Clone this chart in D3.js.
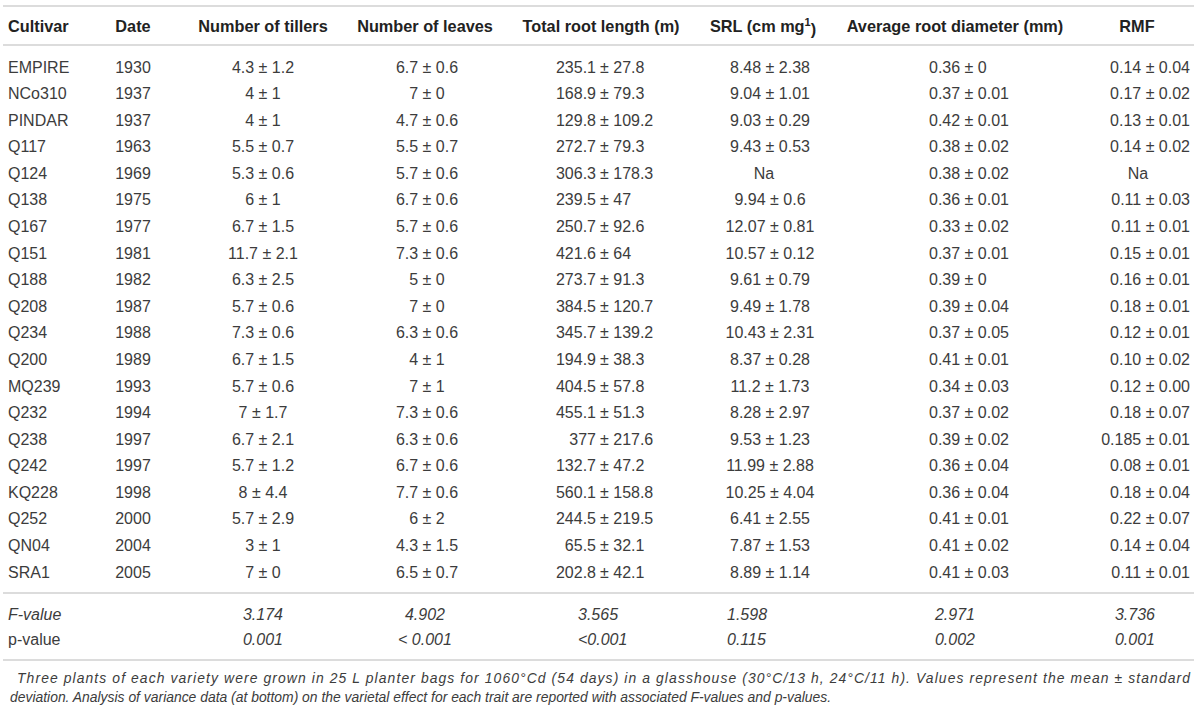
<!DOCTYPE html>
<html>
<head>
<meta charset="utf-8">
<script src="https://cdn.jsdelivr.net/npm/d3@7/dist/d3.min.js"></script>
<style>
  html, body { margin: 0; padding: 0; background: #fff; }
  svg { display: block; }
  text { font-family: "Liberation Sans", Arial, Helvetica, sans-serif; fill: #3c3c3c; }
</style>
</head>
<body>
<svg id="chart" width="1200" height="712"></svg>
<script>
// ---------------- DATA ----------------
const headers = ["Cultivar", "Date", "Number of tillers", "Number of leaves",
  "Total root length (m)", "SRL (cm mg", "Average root diameter (mm)", "RMF"];

const cultivars = ["EMPIRE","NCo310","PINDAR","Q117","Q124","Q138","Q167","Q151","Q188","Q208",
  "Q234","Q200","MQ239","Q232","Q238","Q242","KQ228","Q252","QN04","SRA1"];
const dates = ["1930","1937","1937","1963","1969","1975","1977","1981","1982","1987",
  "1988","1989","1993","1994","1997","1997","1998","2000","2004","2005"];

const tillers = [["4.3","1.2"],["4","1"],["4","1"],["5.5","0.7"],["5.3","0.6"],["6","1"],["6.7","1.5"],
  ["11.7","2.1"],["6.3","2.5"],["5.7","0.6"],["7.3","0.6"],["6.7","1.5"],["5.7","0.6"],["7","1.7"],
  ["6.7","2.1"],["5.7","1.2"],["8","4.4"],["5.7","2.9"],["3","1"],["7","0"]];
const leaves = [["6.7","0.6"],["7","0"],["4.7","0.6"],["5.5","0.7"],["5.7","0.6"],["6.7","0.6"],["5.7","0.6"],
  ["7.3","0.6"],["5","0"],["7","0"],["6.3","0.6"],["4","1"],["7","1"],["7.3","0.6"],
  ["6.3","0.6"],["6.7","0.6"],["7.7","0.6"],["6","2"],["4.3","1.5"],["6.5","0.7"]];
const rootLength = [["235.1","27.8"],["168.9","79.3"],["129.8","109.2"],["272.7","79.3"],["306.3","178.3"],
  ["239.5","47"],["250.7","92.6"],["421.6","64"],["273.7","91.3"],["384.5","120.7"],["345.7","139.2"],
  ["194.9","38.3"],["404.5","57.8"],["455.1","51.3"],["377","217.6"],["132.7","47.2"],["560.1","158.8"],
  ["244.5","219.5"],["65.5","32.1"],["202.8","42.1"]];
const srl = [["8.48","2.38"],["9.04","1.01"],["9.03","0.29"],["9.43","0.53"],null,["9.94","0.6"],
  ["12.07","0.81"],["10.57","0.12"],["9.61","0.79"],["9.49","1.78"],["10.43","2.31"],["8.37","0.28"],
  ["11.2","1.73"],["8.28","2.97"],["9.53","1.23"],["11.99","2.88"],["10.25","4.04"],["6.41","2.55"],
  ["7.87","1.53"],["8.89","1.14"]];
const diameter = [["0.36","0"],["0.37","0.01"],["0.42","0.01"],["0.38","0.02"],["0.38","0.02"],["0.36","0.01"],
  ["0.33","0.02"],["0.37","0.01"],["0.39","0"],["0.39","0.04"],["0.37","0.05"],["0.41","0.01"],
  ["0.34","0.03"],["0.37","0.02"],["0.39","0.02"],["0.36","0.04"],["0.36","0.04"],["0.41","0.01"],
  ["0.41","0.02"],["0.41","0.03"]];
const rmf = [["0.14","0.04"],["0.17","0.02"],["0.13","0.01"],["0.14","0.02"],null,["0.11","0.03"],
  ["0.11","0.01"],["0.15","0.01"],["0.16","0.01"],["0.18","0.01"],["0.12","0.01"],["0.10","0.02"],
  ["0.12","0.00"],["0.18","0.07"],["0.185","0.01"],["0.08","0.01"],["0.18","0.04"],["0.22","0.07"],
  ["0.14","0.04"],["0.11","0.01"]];

const statLabels = ["F-value", "p-value"];
const fValues = ["3.174","4.902","3.565","1.598","2.971","3.736"];
const pValues = ["0.001","< 0.001","<0.001","0.115","0.002","0.001"];

const footnote = [
  "Three plants of each variety were grown in 25 L planter bags for 1060°Cd (54 days) in a glasshouse (30°C/13 h, 24°C/11 h). Values represent the mean ± standard",
  "deviation. Analysis of variance data (at bottom) on the varietal effect for each trait are reported with associated F-values and p-values."
];

// ---------------- LAYOUT ----------------
const svg = d3.select("#chart");
const ruleColor = "#dcdcdc";
const fs = 16;

const y = d3.scaleLinear().domain([0, cultivars.length - 1]).range([67, 572]);
const headerY = 26;
const statY = d3.scaleLinear().domain([0, 1]).range([614, 639]);

const cols = [
  {key:"tillers", data: tillers, x: 263, anchor: "middle", hx: 263, sx: 263, sAnchor: "middle"},
  {key:"leaves", data: leaves, x: 427, anchor: "middle", hx: 425, sx: 425, sAnchor: "middle"},
  {key:"root", data: rootLength, x: 600, anchor: "split", hx: 601, sx: 578, sAnchor: "start"},
  {key:"srl", data: srl, x: 770, anchor: "middle", hx: 763, sx: 727, sAnchor: "start", naX: 764},
  {key:"diam", data: diameter, x: 929, anchor: "start", hx: 955, sx: 955, sAnchor: "middle"},
  {key:"rmf", data: rmf, x: 1190, anchor: "end", hx: 1137, sx: 1135, sAnchor: "middle", naX: 1138}
];

// rules
const rules = [6, 45, 593, 660];
svg.selectAll("line.rule").data(rules).join("line")
  .attr("class", "rule")
  .attr("x1", 3).attr("x2", 1194)
  .attr("y1", d => d).attr("y2", d => d)
  .attr("stroke", ruleColor).attr("stroke-width", 2);

// headers
const hg = svg.append("g").attr("font-weight", "bold").attr("font-size", 16.3);
hg.append("text").attr("x", 8).attr("y", headerY).attr("dy", "0.35em").style("fill", "#222").text(headers[0]);
hg.append("text").attr("x", 133).attr("y", headerY).attr("dy", "0.35em").attr("text-anchor", "middle").style("fill", "#222").text(headers[1]);
cols.forEach((c, i) => {
  const t = hg.append("text").attr("x", c.hx).attr("y", headerY).attr("dy", "0.35em")
    .attr("text-anchor", "middle").style("fill", "#222").text(headers[i + 2]);
  if (c.key === "srl") {
    t.append("tspan").attr("font-size", 11).attr("dy", "-0.55em").text("1");
    t.append("tspan").attr("dy", "0.55em").text(")");
  }
});

// body
const body = svg.append("g").attr("font-size", fs);
body.selectAll("text.cult").data(cultivars).join("text")
  .attr("class", "cult").attr("x", 8).attr("y", (d, i) => y(i)).attr("dy", "0.35em").text(d => d);
body.selectAll("text.date").data(dates).join("text")
  .attr("class", "date").attr("x", 133).attr("y", (d, i) => y(i)).attr("dy", "0.35em")
  .attr("text-anchor", "middle").text(d => d);

const PM = " \u00B1 ";
cols.forEach(c => {
  const g = body.append("g");
  c.data.forEach((v, i) => {
    if (v === null) {
      g.append("text").attr("x", c.naX).attr("y", y(i)).attr("dy", "0.35em")
        .attr("text-anchor", "middle").text("Na");
      return;
    }
    if (c.anchor === "split") {
      g.append("text").attr("x", c.x - 4).attr("y", y(i)).attr("dy", "0.35em")
        .attr("text-anchor", "end").text(v[0]);
      g.append("text").attr("x", c.x).attr("y", y(i)).attr("dy", "0.35em")
        .attr("text-anchor", "start").text("\u00B1 " + v[1]);
    } else {
      g.append("text").attr("x", c.x).attr("y", y(i)).attr("dy", "0.35em")
        .attr("text-anchor", c.anchor).text(v[0] + PM + v[1]);
    }
  });
});

// stats rows
const sg = svg.append("g").attr("font-size", fs).attr("font-style", "italic");
sg.selectAll("text.slab").data(statLabels).join("text")
  .attr("class", "slab").attr("x", 8).attr("y", (d, i) => statY(i)).attr("dy", "0.35em")
  .attr("font-style", (d, i) => i === 0 ? "italic" : "normal").text(d => d);
[fValues, pValues].forEach((arr, r) => {
  sg.selectAll(null).data(arr).join("text")
    .attr("x", (d, i) => cols[i].sx).attr("y", statY(r)).attr("dy", "0.35em")
    .attr("text-anchor", (d, i) => cols[i].sAnchor).text(d => d);
});

// footnote
const fg = svg.append("g").attr("font-size", 13.9).attr("font-style", "italic");
fg.append("text").attr("x", 17).attr("y", 683).attr("textLength", 1173).attr("lengthAdjust", "spacing").text(footnote[0]);
fg.append("text").attr("x", 10).attr("y", 702).text(footnote[1]);
</script>
</body>
</html>
